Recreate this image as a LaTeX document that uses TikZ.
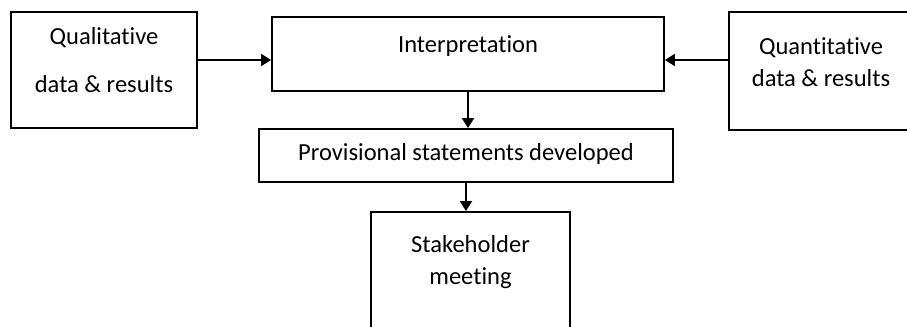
\documentclass[tikz,border=0pt]{standalone}
\usepackage{fontspec}
\setmainfont{Carlito}[Ligatures={NoCommon}]
\usetikzlibrary{arrows.meta, positioning, calc}

\begin{document}
\begin{tikzpicture}[
  x=0.75pt, y=-0.75pt,
  every node/.style={font=\fontsize{18.4pt}{24pt}\selectfont},
  box/.style={rectangle, draw, line width=1.4pt, align=center, inner ysep=0pt},
  arr/.style={-{Triangle[length=7.5pt, width=9pt]}, line width=1.4pt},
]
  \useasboundingbox (0,0) rectangle (907,327);

  \node[box, minimum width=139.5pt, text height=60.75pt, text depth=26.25pt] (QL) at (104,70) {Qualitative\\[12pt]data \& results};
  \node[box, minimum width=294pt, text height=27pt, text depth=28.5pt] (INT) at (468,54) {Interpretation};
  \node[box, minimum width=138pt, text height=56.25pt, text depth=32.25pt] (QN) at (821,71) {Quantitative\\data \& results};
  \node[box, minimum width=310.5pt, text height=24pt, text depth=15.75pt] (PS) at (466,155.5) {Provisional statements developed};
  \node[box, minimum width=149.25pt, text height=54.75pt, text depth=45pt] (SM) at (470.5,278.5) {Stakeholder\\meeting};

  \coordinate (inL) at ([yshift=-4.5pt]INT.west);
  \coordinate (inR) at ([yshift=-4.5pt]INT.east);

  \draw[arr] (QL.east |- inL) -- (inL);
  \draw[arr] (QN.west |- inR) -- (inR);
  \draw[arr] (INT.south) -- (INT.south |- PS.north);
  \draw[arr] (PS.south) -- (PS.south |- SM.north);
\end{tikzpicture}
\end{document}
